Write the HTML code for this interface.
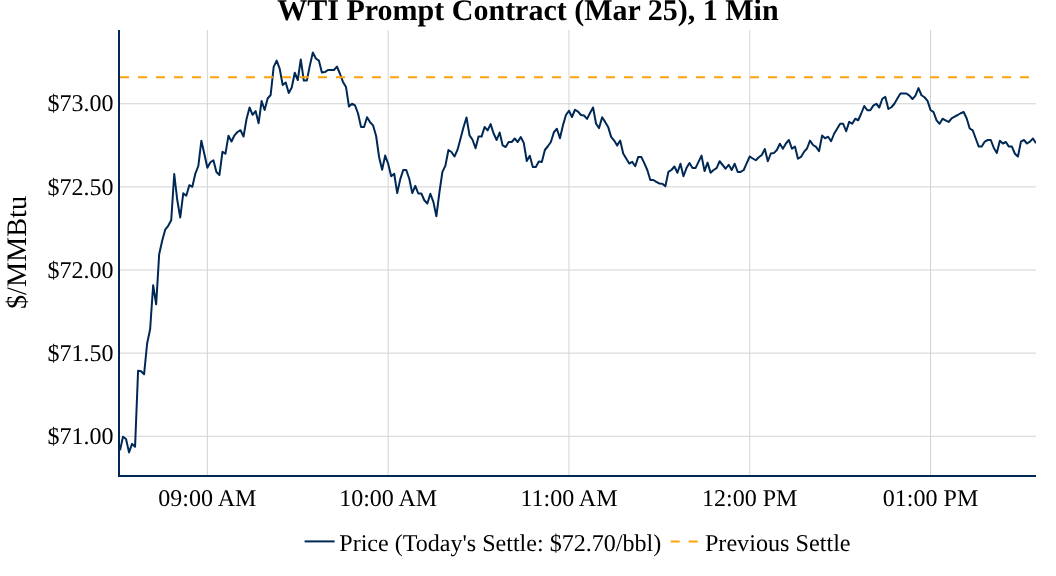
<!DOCTYPE html>
<html><head><meta charset="utf-8"><title>WTI Prompt Contract</title>
<style>
html,body{margin:0;padding:0;background:#fff;}
body{width:1056px;height:576px;overflow:hidden;}
svg{display:block;}
text{text-rendering:geometricPrecision;font-family:"Liberation Serif",serif;fill:#000;}
</style></head><body>
<svg width="1056" height="576" viewBox="0 0 1056 576">
<rect x="0" y="0" width="1056" height="576" fill="#fff"/>
<g stroke="#d3d3d3" stroke-width="1" fill="none">
<path d="M207.38,30V475"/>
<path d="M388.17,30V475"/>
<path d="M568.96,30V475"/>
<path d="M749.75,30V475"/>
<path d="M930.54,30V475"/>
<path d="M120,103.75H1036"/>
<path d="M120,186.88H1036"/>
<path d="M120,270.00H1036"/>
<path d="M120,353.12H1036"/>
<path d="M120,436.25H1036"/>
</g>
<path d="M119,30V477" stroke="#002855" stroke-width="2" fill="none"/>
<path d="M118,476H1036" stroke="#002855" stroke-width="2" fill="none"/>
<clipPath id="c"><rect x="120" y="30" width="916" height="445"/></clipPath>
<g clip-path="url(#c)" fill="none">
<path d="M120.00,450.30L123.01,436.70L126.03,439.00L129.04,452.40L132.05,443.90L135.07,446.80L138.08,370.80L141.09,371.30L144.11,374.20L147.12,343.50L150.13,329.30L153.14,285.20L156.16,304.30L159.17,254.20L162.18,240.80L165.20,229.70L168.21,225.80L171.22,220.30L174.24,174.00L177.25,200.00L180.26,217.50L183.28,193.20L186.29,195.70L189.30,185.20L192.32,186.80L195.33,173.70L198.34,166.00L201.36,140.70L204.37,154.00L207.38,167.80L210.39,162.30L213.41,160.20L216.42,172.00L219.43,175.00L222.45,151.80L225.46,153.70L228.47,135.70L231.49,141.50L234.50,135.30L237.51,132.00L240.53,130.20L243.54,136.50L246.55,119.00L249.57,107.50L252.58,114.80L255.59,111.00L258.61,123.20L261.62,101.00L264.63,110.00L267.64,98.50L270.66,95.00L273.67,66.90L276.68,60.60L279.70,68.75L282.71,85.00L285.72,82.50L288.74,93.10L291.75,87.50L294.76,72.75L297.78,80.00L300.79,59.40L303.80,80.60L306.82,80.60L309.83,65.60L312.84,52.50L315.86,58.50L318.87,60.60L321.88,72.50L324.89,72.10L327.91,70.00L330.92,70.00L333.93,70.00L336.95,66.60L339.96,73.75L342.97,81.90L345.99,86.90L349.00,106.60L352.01,103.75L355.03,105.40L358.04,113.50L361.05,127.00L364.07,127.00L367.08,117.25L370.09,122.25L373.11,125.40L376.12,136.00L379.13,157.25L382.14,169.75L385.16,155.60L388.17,163.75L391.18,176.25L394.20,173.75L397.21,193.10L400.22,179.40L403.24,170.00L406.25,170.00L409.26,178.75L412.28,193.10L415.29,185.90L418.30,193.50L421.32,193.50L424.33,200.25L427.34,203.50L430.36,193.75L433.37,201.90L436.38,216.25L439.39,192.50L442.41,171.90L445.42,165.60L448.43,150.00L451.45,152.00L454.46,156.50L457.47,149.90L460.49,138.70L463.50,127.25L466.51,117.50L469.53,135.40L472.54,139.75L475.55,148.25L478.57,136.60L481.58,136.60L484.59,127.00L487.61,130.40L490.62,124.10L493.63,133.50L496.64,140.00L499.66,132.50L502.67,145.40L505.68,147.00L508.70,142.00L511.71,142.00L514.72,138.50L517.74,142.00L520.75,137.00L523.76,142.90L526.78,161.00L529.79,155.75L532.80,167.00L535.82,167.00L538.83,161.60L541.84,162.00L544.86,150.00L547.87,146.25L550.88,142.00L553.89,132.25L556.91,128.75L559.92,138.25L562.93,125.40L565.95,115.00L568.96,110.75L571.97,117.00L574.99,109.75L578.00,111.60L581.01,115.00L584.03,115.50L587.04,118.90L590.05,113.00L593.07,107.50L596.08,123.75L599.09,128.10L602.11,117.25L605.12,121.90L608.13,126.90L611.14,136.90L614.16,140.60L617.17,145.60L620.18,140.60L623.20,153.60L626.21,158.60L629.22,163.50L632.24,161.90L635.25,166.25L638.26,156.90L641.28,156.90L644.29,163.10L647.30,170.00L650.32,180.00L653.33,180.00L656.34,181.90L659.36,183.50L662.37,183.75L665.38,186.25L668.39,171.90L671.41,170.00L674.42,166.50L677.43,172.75L680.45,163.75L683.46,176.25L686.47,168.10L689.49,163.10L692.50,168.10L695.51,168.10L698.53,161.90L701.54,155.60L704.55,171.10L707.57,162.60L710.58,172.80L713.59,170.00L716.61,168.10L719.62,161.25L722.63,165.00L725.64,168.75L728.66,164.75L731.67,170.00L734.68,163.75L737.70,171.90L740.71,171.90L743.72,170.00L746.74,163.10L749.75,156.50L752.76,158.50L755.78,160.25L758.79,157.25L761.80,155.00L764.82,149.00L767.83,161.25L770.84,153.50L773.86,153.10L776.87,150.00L779.88,143.75L782.89,148.75L785.91,143.50L788.92,140.00L791.93,148.75L794.95,146.50L797.96,158.75L800.97,156.90L803.99,151.90L807.00,148.50L810.01,140.60L813.03,145.00L816.04,146.90L819.05,151.25L822.07,135.60L825.08,138.30L828.09,136.70L831.11,141.25L834.12,133.75L837.13,128.75L840.14,123.75L843.16,123.75L846.17,131.25L849.18,121.90L852.20,123.75L855.21,118.75L858.22,120.25L861.24,113.50L864.25,106.00L867.26,110.25L870.28,110.25L873.29,105.60L876.30,103.75L879.32,107.50L882.33,98.75L885.34,96.90L888.36,109.00L891.37,107.25L894.38,103.75L897.39,98.50L900.41,93.50L903.42,93.50L906.43,93.50L909.45,95.60L912.46,99.00L915.47,95.60L918.49,88.10L921.50,95.25L924.51,97.25L927.53,100.90L930.54,110.00L933.55,112.10L936.57,120.30L939.58,123.75L942.59,118.75L945.61,120.30L948.62,122.00L951.63,118.30L954.64,116.60L957.66,115.00L960.67,113.25L963.68,112.00L966.70,118.50L969.71,128.50L972.72,130.40L975.74,138.50L978.75,146.60L981.76,146.60L984.78,141.60L987.79,140.00L990.80,140.00L993.82,147.90L996.83,152.90L999.84,140.75L1002.86,143.50L1005.87,142.00L1008.88,146.60L1011.89,146.60L1014.91,153.75L1017.92,156.60L1020.93,141.60L1023.95,140.00L1026.96,143.50L1029.97,141.60L1032.99,138.50L1036.00,143.25" stroke="#002855" stroke-width="2" stroke-linejoin="round" stroke-linecap="butt"/>
<path d="M120,77.15H1036" stroke="#ffa20a" stroke-width="2" stroke-dasharray="9,9"/>
</g>
<text x="207.38" y="505.7" font-size="24" text-anchor="middle">09:00 AM</text>
<text x="388.17" y="505.7" font-size="24" text-anchor="middle">10:00 AM</text>
<text x="568.96" y="505.7" font-size="24" text-anchor="middle">11:00 AM</text>
<text x="749.75" y="505.7" font-size="24" text-anchor="middle">12:00 PM</text>
<text x="930.54" y="505.7" font-size="24" text-anchor="middle">01:00 PM</text>
<text x="113.5" y="111.45" font-size="24" text-anchor="end">$73.00</text>
<text x="113.5" y="194.57" font-size="24" text-anchor="end">$72.50</text>
<text x="113.5" y="277.70" font-size="24" text-anchor="end">$72.00</text>
<text x="113.5" y="360.82" font-size="24" text-anchor="end">$71.50</text>
<text x="113.5" y="443.95" font-size="24" text-anchor="end">$71.00</text>
<text x="528" y="20.2" font-size="30" font-weight="bold" text-anchor="middle">WTI Prompt Contract (Mar 25), 1 Min</text>
<text transform="translate(25.5,252.5) rotate(-90)" font-size="28.25" text-anchor="middle">$/MMBtu</text>
<path d="M304.6,541.4H334.6" stroke="#002855" stroke-width="2" fill="none"/>
<text x="339.3" y="550.7" font-size="24.06">Price (Today's Settle: $72.70/bbl)</text>
<path d="M670.7,541.4H700.7" stroke="#ffa20a" stroke-width="2" stroke-dasharray="9,9" fill="none"/>
<text x="704.9" y="550.7" font-size="24.18">Previous Settle</text>
</svg></body></html>
